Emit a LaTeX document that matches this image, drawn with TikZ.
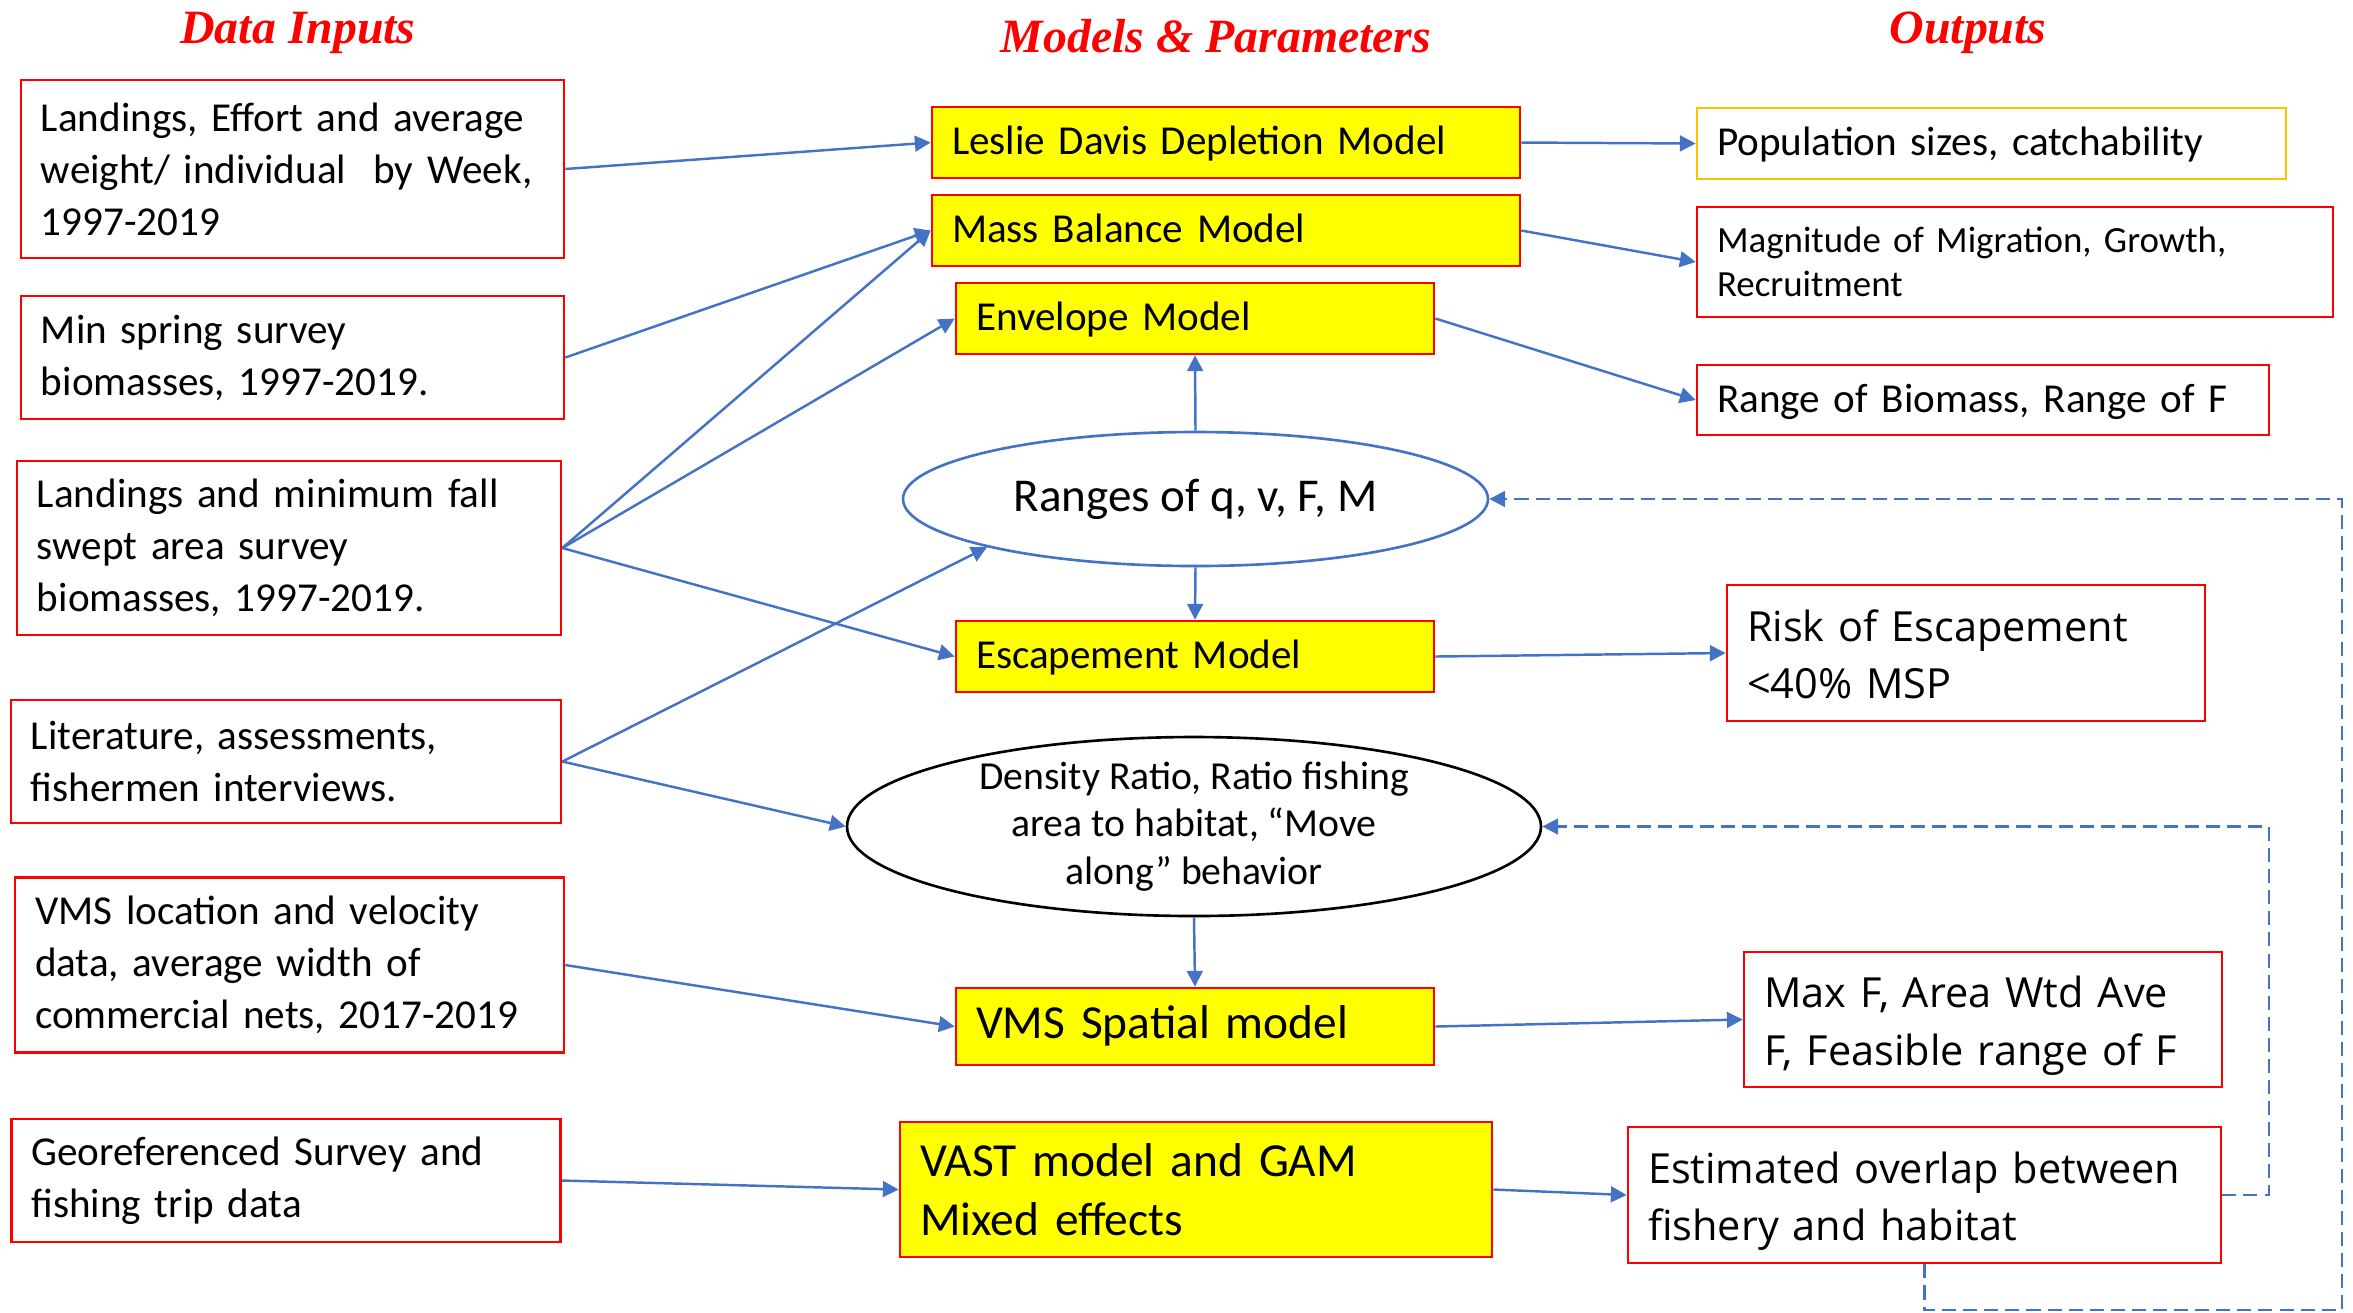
\documentclass[tikz,border=0pt]{standalone}
\usepackage{fontspec}
\setmainfont{Carlito}
\newfontfamily\segoe{Open Sans}
\newfontfamily\headfont{Liberation Serif}
\usepackage{tikz}
\usetikzlibrary{positioning,arrows.meta,shapes.geometric}
\definecolor{BoxRed}{HTML}{FF0000}
\definecolor{ModelYellow}{HTML}{FFFF00}
\definecolor{OutGold}{HTML}{FFC000}
\definecolor{LinkBlue}{HTML}{4472C4}
\definecolor{TitleRed}{HTML}{FF0000}

\begin{document}
\begin{tikzpicture}[
    every node/.style={font=\fontsize{11.7}{14.8}\selectfont},
    colhead/.style={anchor=base, text=TitleRed, font=\headfont\bfseries\itshape\fontsize{13.6}{16}\selectfont},
    inbox/.style={draw=BoxRed, line width=0.75pt, align=left, inner xsep=0.2cm, inner ysep=0pt},
    modelbox/.style={inbox, fill=ModelYellow},
    outbox/.style={inbox},
    oneline/.style={text height=0.7em, text depth=0pt},
    wide/.style={font=\segoe\fontsize{11.8}{16.4}\selectfont, text depth=15.8pt},
    ovalnode/.style={ellipse, inner sep=0pt, line width=0.75pt},
    flow/.style={-{Triangle[length=4.5pt,width=4.5pt]}, draw=LinkBlue, line width=0.7pt},
    feedback/.style={flow, dash pattern=on 4pt off 2pt}
  ]
  \useasboundingbox (0,0) rectangle (23.53,-13.12);

  % column headings
  \node[colhead] (hdin) at (2.98,-0.43) {Data Inputs};
  \node[colhead] (hdmod) at (12.16,-0.52) {Models \& Parameters};
  \node[colhead] (hdout) at (19.68,-0.43) {Outputs};

  % data inputs
  \foreach \n/\cx/\cy/\tw/\h/\txt in {
    1/2.925/-1.69/5.03/1.78/{Landings, Effort and average\\weight/ individual\ \ by Week,\\1997-2019},
    2/2.925/-3.575/5.03/1.23/{Min spring survey\\biomasses, 1997-2019.},
    3/2.89/-5.48/5.04/1.74/{Landings and minimum fall\\swept area survey\\biomasses, 1997-2019.},
    4/2.86/-7.615/5.10/1.23/{Literature, assessments,\\fishermen interviews.},
    5/2.895/-9.65/5.09/1.75/{VMS location and velocity\\data, average width of\\commercial nets, 2017-2019},
    6/2.86/-11.805/5.09/1.23/{Georeferenced Survey and\\fishing trip data}
  }{
    \node[inbox, text width=\tw cm, minimum height=\h cm] (in\n) at (\cx,\cy) {\txt};
  }

  % models and parameters
  \node[modelbox, oneline, text width=5.48cm, minimum height=0.71cm] (leslie) at (12.26,-1.425) {Leslie Davis Depletion Model};
  \node[modelbox, oneline, text width=5.48cm, minimum height=0.71cm] (mass) at (12.26,-2.305) {Mass Balance Model};
  \node[modelbox, oneline, text width=4.38cm, minimum height=0.71cm] (envelope) at (11.95,-3.185) {Envelope Model};
  \node[ovalnode, oneline, draw=LinkBlue, minimum width=5.85cm, minimum height=1.34cm,
        font=\fontsize{13.4}{16}\selectfont] (ranges) at (11.955,-4.99) {Ranges of q, v, F, M};
  \node[modelbox, oneline, text width=4.38cm, minimum height=0.71cm] (escape) at (11.95,-6.565) {Escapement Model};
  \node[ovalnode, draw=black, minimum width=6.94cm, minimum height=1.79cm,
        label={[align=center, font=\fontsize{11.3}{13.6}\selectfont]center:{Density Ratio, Ratio fishing\\area to habitat, “Move\\along” behavior}}]
        (density) at (11.94,-8.265) {};
  \node[modelbox, oneline, text width=4.38cm, minimum height=0.77cm,
        font=\fontsize{13.5}{16.6}\selectfont] (vms) at (11.95,-10.265) {VMS Spatial model};
  \node[modelbox, text width=5.52cm, minimum height=1.35cm,
        font=\fontsize{13.5}{16.6}\selectfont] (vast) at (11.96,-11.895) {VAST model and GAM\\Mixed effects};

  % outputs
  \node[outbox, oneline, draw=OutGold, text width=5.49cm, minimum height=0.71cm] (popsize) at (19.915,-1.435) {Population sizes, catchability};
  \node[outbox, text width=5.96cm, minimum height=1.10cm,
        font=\fontsize{10.5}{12.4}\selectfont] (migration) at (20.15,-2.62) {Magnitude of Migration, Growth,\\Recruitment};
  \node[outbox, oneline, text width=5.32cm, minimum height=0.70cm] (biorange) at (19.83,-4.00) {Range of Biomass, Range of F};
  \node[outbox, wide, text width=4.38cm, minimum height=1.36cm] (risk) at (19.66,-6.53) {Risk of Escapement\\<40\% MSP};
  \node[outbox, wide, text width=4.38cm, minimum height=1.35cm] (maxf) at (19.83,-10.195) {Max F, Area Wtd Ave\\F, Feasible range of F};
  \node[outbox, wide, text width=5.53cm, minimum height=1.36cm] (overlap) at (19.245,-11.95) {Estimated overlap between\\fishery and habitat};

  % inputs to models
  \draw[flow] (in1.east) -- (leslie.west);
  \draw[flow] (in2.east) -- (mass.west);
  \draw[flow] (in3.east) -- (mass.west);
  \draw[flow] (in3.east) -- (envelope.west);
  \draw[flow] (in3.east) -- (escape.west);
  \draw[flow] (in4.east) -- (ranges.193);
  \draw[flow] (in4.east) -- (density.west);
  \draw[flow] (in5.east) -- (vms.west);
  \draw[flow] (in6.east) -- (vast.west);

  % within the model column
  \draw[flow] (ranges.north) -- (envelope.south);
  \draw[flow] (ranges.south) -- (escape.north);
  \draw[flow] (density.south) -- (vms.north);

  % models to outputs
  \draw[flow] (leslie.east) -- (popsize.west);
  \draw[flow] (mass.east) -- (migration.west);
  \draw[flow] (envelope.east) -- (biorange.west);
  \draw[flow] (escape.east) -- (risk.west);
  \draw[flow] (vms.east) -- (maxf.west);
  \draw[flow] (vast.east) -- (overlap.west);

  % feedback loops
  \coordinate (innerturn) at (22.69,-11.95);
  \coordinate (outerturn) at (23.42,-13.10);
  \draw[feedback] (overlap.east) -- (innerturn) |- (density.east);
  \draw[feedback] (overlap.south) |- (outerturn) |- (ranges.east);
\end{tikzpicture}
\end{document}
